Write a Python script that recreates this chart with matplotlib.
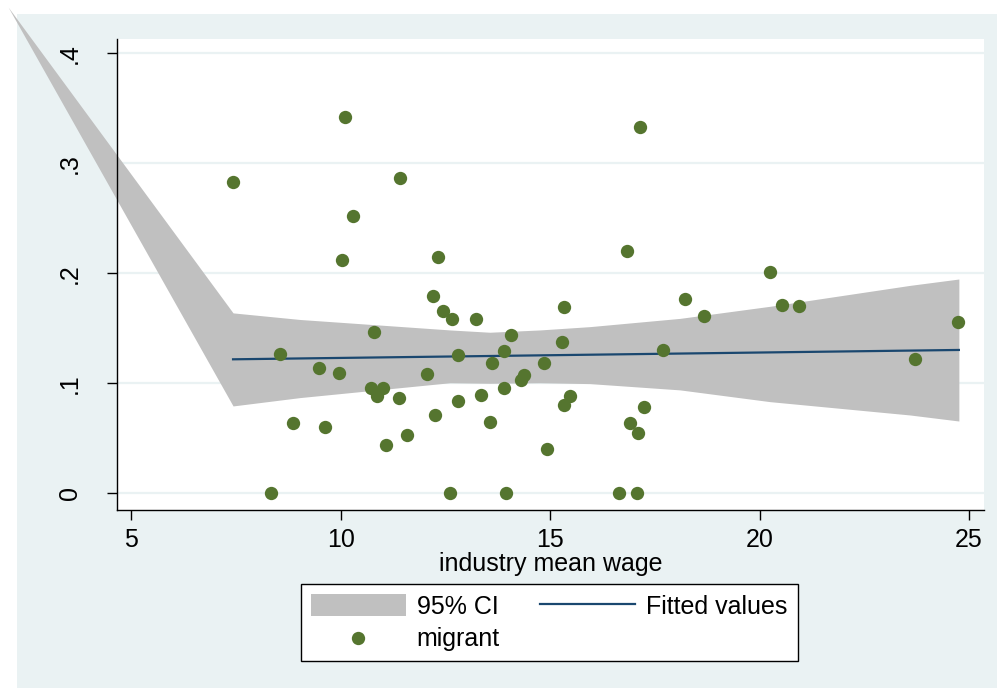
import matplotlib
matplotlib.use("Agg")
from matplotlib import pyplot as plt
from matplotlib.patches import Rectangle

# Scatter data: industry mean wage vs migrant share
wage = [10.10, 7.43, 11.42, 10.30, 10.04, 12.32, 12.20, 12.45, 12.66, 10.80,
        8.54, 9.48, 9.95, 12.06, 10.72, 11.02, 10.87, 11.40, 12.24, 8.87,
        9.62, 11.58, 11.09, 8.34, 12.61, 17.15, 16.84, 13.24, 15.32, 14.06,
        15.28, 12.79, 13.91, 13.61, 14.85, 17.69, 14.38, 14.30, 13.89, 13.36,
        12.79, 15.48, 15.33, 17.23, 13.57, 16.91, 17.11, 14.93, 13.95, 16.64,
        17.07, 18.22, 18.67, 20.26, 20.54, 20.94, 23.72, 24.73]
migrant = [0.342, 0.283, 0.287, 0.252, 0.212, 0.215, 0.179, 0.166, 0.158, 0.147,
           0.127, 0.114, 0.109, 0.108, 0.096, 0.096, 0.088, 0.087, 0.071, 0.064,
           0.060, 0.053, 0.044, 0.0, 0.0, 0.333, 0.220, 0.158, 0.169, 0.144,
           0.1375, 0.1255, 0.1296, 0.1185, 0.1185, 0.1305, 0.1075, 0.1033, 0.0955, 0.0896,
           0.0836, 0.0887, 0.080, 0.0785, 0.0651, 0.0639, 0.0551, 0.0403, 0.0, 0.0,
           0.0, 0.177, 0.161, 0.201, 0.171, 0.170, 0.122, 0.156]

# Fitted line
fit_x = [7.43, 24.76]
fit_y = [0.1218, 0.1303]

# 95% CI band (first vertex is the stray point Stata draws outside the plot)
ci_x = [2.06, 7.43, 9.03, 12.61, 13.56, 14.76, 15.95, 18.10, 20.25, 23.59, 24.76]
ci_upper = [0.442, 0.164, 0.158, 0.1485, 0.1464, 0.1485, 0.1515, 0.159, 0.170, 0.189, 0.1948]
ci_lower = [0.442, 0.0794, 0.087, 0.1005, 0.100, 0.1005, 0.0997, 0.094, 0.0833, 0.0712, 0.0657]

BG = "#EAF2F3"
GREEN = "#55752F"
NAVY = "#1A476F"
GRAY = "#C0C0C0"
FS = 18

plt.rcParams["font.family"] = ["Liberation Sans", "DejaVu Sans"]

fig = plt.figure(figsize=(9.97, 6.88), dpi=100, facecolor="white")
fig.patches.append(Rectangle((17 / 997, 0), 1, 1 - 14 / 688, transform=fig.transFigure,
                             facecolor=BG, edgecolor="none", zorder=-5))

ax = fig.add_axes([116.5 / 997, 1 - 510 / 688, (984 - 116.5) / 997, (510 - 39) / 688])
ax.set_facecolor("white")

ci = ax.fill_between(ci_x, ci_lower, ci_upper, color=GRAY, linewidth=0,
                     clip_on=False, zorder=1, label="95% CI")
fit, = ax.plot(fit_x, fit_y, color=NAVY, linewidth=1.6, zorder=2, label="Fitted values")
pts = ax.scatter(wage, migrant, s=92, color=GREEN, linewidths=0, zorder=3, label="migrant")

ax.set_xlim(4.647, 25.36)
ax.set_ylim(-0.0152, 0.413)
ax.set_xticks([5, 10, 15, 20, 25])
ax.set_yticks([0, 0.1, 0.2, 0.3, 0.4])
ax.set_yticklabels(["0", ".1", ".2", ".3", ".4"], rotation=90, va="center")
ax.grid(axis="y", color=BG, linewidth=1.6)
ax.set_axisbelow(True)

for side in ["top", "right"]:
    ax.spines[side].set_visible(False)
for side in ["left", "bottom"]:
    ax.spines[side].set_linewidth(1.0)
    ax.spines[side].set_color("black")

ax.tick_params(axis="both", length=7, width=1, labelsize=FS, color="black")
ax.tick_params(axis="y", pad=18)
ax.tick_params(axis="x", pad=6)
ax.set_xlabel("industry mean wage", fontsize=FS, labelpad=0)

fig.legend(handles=[ci, pts, fit], labels=["95% CI", "migrant", "Fitted values"],
           ncol=2, loc="upper center", bbox_to_anchor=(549 / 997, 1 - 584 / 688),
           borderaxespad=0, fontsize=FS, frameon=True, fancybox=False, edgecolor="black",
           framealpha=1, handlelength=3.8, handleheight=1.0, handletextpad=0.45,
           columnspacing=1.6, labelspacing=0.3, borderpad=0.4)
fig.legends[0].get_frame().set_linewidth(1.0)

fig.savefig("out.png", dpi=100, facecolor=fig.get_facecolor())
